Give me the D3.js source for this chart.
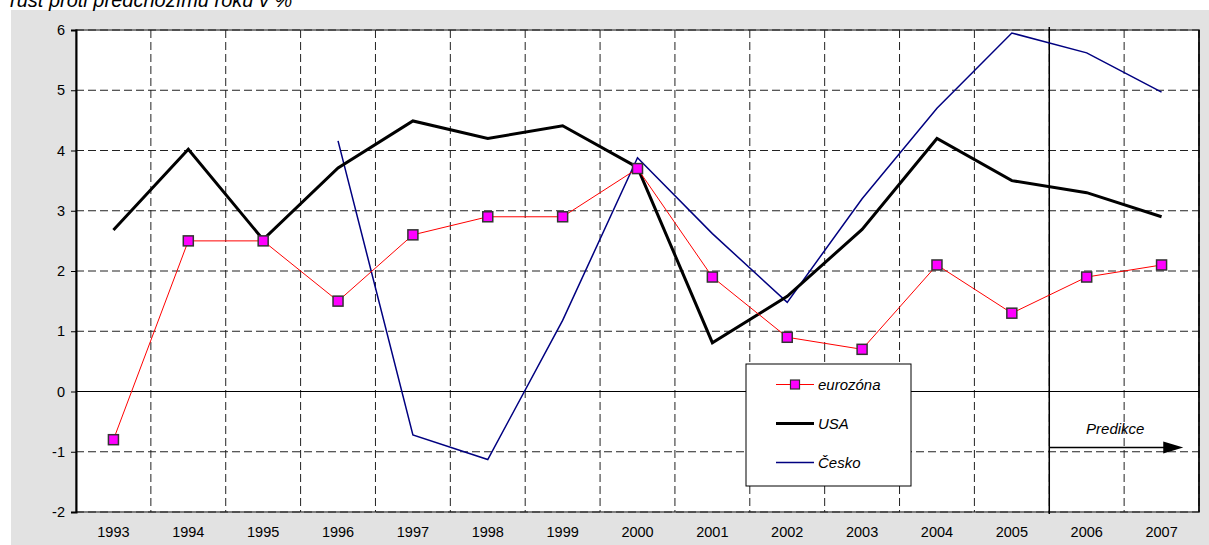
<!DOCTYPE html>
<html>
<head>
<meta charset="utf-8">
<script src="https://cdn.jsdelivr.net/npm/d3@7"></script>
<style>
  html, body { margin: 0; padding: 0; background: #fff; }
  svg { display: block; }
  text { font-family: "Liberation Sans", Arial, sans-serif; }
</style>
</head>
<body>
<svg id="chart" width="1209" height="545"></svg>
<script>
const years = ["1993","1994","1995","1996","1997","1998","1999","2000","2001","2002","2003","2004","2005","2006","2007"];
const eurozona = [-0.8, 2.5, 2.5, 1.5, 2.6, 2.9, 2.9, 3.7, 1.9, 0.9, 0.7, 2.1, 1.3, 1.9, 2.1];
const usa      = [2.68, 4.02, 2.52, 3.71, 4.49, 4.2, 4.41, 3.72, 0.81, 1.58, 2.69, 4.2, 3.5, 3.3, 2.9];
const cesko    = [null, null, null, 4.16, -0.72, -1.13, 1.18, 3.88, 2.62, 1.48, 3.2, 4.7, 5.95, 5.62, 4.97];
const yTicks   = [-2, -1, 0, 1, 2, 3, 4, 5, 6];
const yTickLabels = ["-2", "-1", "0", "1", "2", "3", "4", "5", "6"];
const title    = "růst proti předchozímu roku v %";
const legendLabels = ["eurozóna", "USA", "Česko"];
const predikceLabel = "Predikce";
const predikceStart = "2006";
const arrowValue = -0.93;

const svg = d3.select("#chart");
const L = 76, R = 1199, T = 30, B = 512;

const x = d3.scaleBand().domain(years).range([L, R]).padding(0);
const y = d3.scaleLinear().domain([-2, 6]).range([B, T]);
const cx = d => x(d) + x.bandwidth() / 2;

// outer grey chart area
svg.append("rect").attr("x", 11).attr("y", 10).attr("width", 1198).attr("height", 535).attr("fill", "#e2e2e2");

// title (cut off at top, as in the original)
svg.append("text").attr("x", 10).attr("y", 7)
  .attr("font-family", "'Liberation Serif', 'Times New Roman', serif")
  .attr("font-style", "italic").attr("font-size", 20).attr("fill", "#000")
  .text(title);

// plot area
svg.append("rect").attr("x", L).attr("y", T).attr("width", R - L).attr("height", B - T)
  .attr("fill", "#fff").attr("stroke", "#808080").attr("stroke-width", 2);

// horizontal gridlines
svg.append("g").selectAll("line").data(yTicks.filter(v => v !== 0)).join("line")
  .attr("x1", L).attr("x2", R).attr("y1", d => y(d)).attr("y2", d => y(d))
  .attr("stroke", "#222").attr("stroke-width", 1).attr("stroke-dasharray", "8,4");

// vertical gridlines at category boundaries
svg.append("g").selectAll("line").data(years.slice(1).concat(["__end"])).join("line")
  .attr("x1", d => d === "__end" ? R : x(d)).attr("x2", d => d === "__end" ? R : x(d))
  .attr("y1", T).attr("y2", B)
  .attr("stroke", "#222").attr("stroke-width", 1).attr("stroke-dasharray", "8,4");

// right border solid
svg.append("line").attr("x1", R).attr("x2", R).attr("y1", T).attr("y2", B).attr("stroke", "#000").attr("stroke-width", 1.5);

// zero line (category axis)
svg.append("line").attr("x1", L).attr("x2", R).attr("y1", y(0)).attr("y2", y(0))
  .attr("stroke", "#000").attr("stroke-width", 1.2);

// y axis
const yAxis = svg.append("g").attr("transform", `translate(${L},0)`)
  .call(d3.axisLeft(y).tickValues(yTicks).tickSize(5).tickPadding(6)
    .tickFormat((d, i) => yTickLabels[i]));
yAxis.select(".domain").attr("stroke", "#000").attr("stroke-width", 2);
yAxis.selectAll(".tick line").attr("stroke", "#000");
yAxis.selectAll(".tick text").attr("font-size", 14.5).attr("fill", "#000")
  .attr("font-family", "'Liberation Sans', Arial, sans-serif");

// x axis labels
const xAxis = svg.append("g").attr("transform", `translate(0,${B})`)
  .call(d3.axisBottom(x).tickSize(0).tickPadding(15));
xAxis.select(".domain").remove();
xAxis.selectAll(".tick text").attr("font-size", 14.5).attr("fill", "#000")
  .attr("font-family", "'Liberation Sans', Arial, sans-serif");

// prediction separator
const xp = x(predikceStart);
svg.append("line").attr("x1", xp).attr("x2", xp).attr("y1", T - 3).attr("y2", B + 2)
  .attr("stroke", "#000").attr("stroke-width", 1.5);

// series lines
const lineGen = d3.line().defined(d => d.v !== null).x(d => cx(d.k)).y(d => y(d.v));
const mk = arr => years.map((k, i) => ({ k, v: arr[i] }));

svg.append("path").datum(mk(cesko)).attr("d", lineGen)
  .attr("fill", "none").attr("stroke", "#000080").attr("stroke-width", 1.5);
svg.append("path").datum(mk(usa)).attr("d", lineGen)
  .attr("fill", "none").attr("stroke", "#000").attr("stroke-width", 3).attr("stroke-linejoin", "miter");
svg.append("path").datum(mk(eurozona)).attr("d", lineGen)
  .attr("fill", "none").attr("stroke", "#ff0000").attr("stroke-width", 1);

const ms = 10;
svg.append("g").selectAll("rect").data(mk(eurozona)).join("rect")
  .attr("x", d => cx(d.k) - ms / 2).attr("y", d => y(d.v) - ms / 2)
  .attr("width", ms).attr("height", ms)
  .attr("fill", "#ff00ff").attr("stroke", "#333").attr("stroke-width", 1.5);

// Predikce arrow
const ya = y(arrowValue);
const xEnd = cx("2007") + x.bandwidth() * 0.29;
svg.append("line").attr("x1", xp).attr("x2", xEnd - 18).attr("y1", ya).attr("y2", ya)
  .attr("stroke", "#000").attr("stroke-width", 1.5);
svg.append("path")
  .attr("d", `M${xEnd - 20},${ya - 6}L${xEnd},${ya}L${xEnd - 20},${ya + 6}Z`)
  .attr("fill", "#000");
svg.append("text").attr("x", (xp + xEnd) / 2 - 1).attr("y", ya - 14)
  .attr("text-anchor", "middle").attr("font-style", "italic").attr("font-size", 15).attr("fill", "#000")
  .text(predikceLabel);

// legend
const lg = svg.append("g");
lg.append("rect").attr("x", 746).attr("y", 364).attr("width", 165).attr("height", 122)
  .attr("fill", "#fff").attr("stroke", "#000").attr("stroke-width", 1);
const rows = [384.5, 423.5, 462.5];
const styles = [
  { stroke: "#ff0000", w: 1, marker: true },
  { stroke: "#000", w: 3, marker: false },
  { stroke: "#000080", w: 1.5, marker: false }
];
legendLabels.forEach((lab, i) => {
  const ry = rows[i];
  lg.append("line").attr("x1", 776).attr("x2", 814).attr("y1", ry).attr("y2", ry)
    .attr("stroke", styles[i].stroke).attr("stroke-width", styles[i].w);
  if (styles[i].marker) {
    lg.append("rect").attr("x", 795 - 4.5).attr("y", ry - 4.5).attr("width", 9).attr("height", 9)
      .attr("fill", "#ff00ff").attr("stroke", "#333").attr("stroke-width", 1.2);
  }
  lg.append("text").attr("x", 818).attr("y", ry + 5).attr("font-style", "italic")
    .attr("font-size", 15).attr("fill", "#000").text(lab);
});
</script>
</body>
</html>
